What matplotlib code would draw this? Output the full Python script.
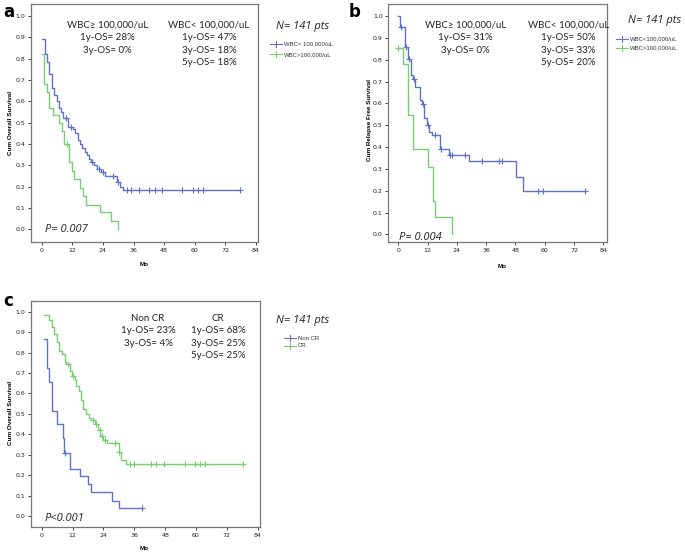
import numpy as np
import matplotlib
matplotlib.use("Agg")
import matplotlib.pyplot as plt

# panel a: overall survival by WBC
a_lo_t = [0, 1.3, 2.2, 3, 3.9, 4.8, 5.9, 6.8, 7.7, 8.5, 10.4, 12.1, 13.2, 14.1, 15, 15.9,
          16.8, 17.9, 18.7, 19.5, 20.6, 21.5, 23.1, 25, 29.6, 30.7, 32]
a_lo_s = [0.89, 0.82, 0.785, 0.73, 0.66, 0.63, 0.60, 0.57, 0.55, 0.52, 0.48, 0.47, 0.45, 0.42,
          0.40, 0.38, 0.36, 0.35, 0.33, 0.315, 0.30, 0.28, 0.27, 0.25, 0.22, 0.20, 0.185]
a_lo_c = [9.5, 11.4, 19.9, 22.3, 24.2, 28, 30, 33.3, 35, 38.3, 42.2, 44.4, 47.3, 55.2, 59.2,
          61.4, 63.3, 77.7]
a_hi_t = [0.2, 1, 2.2, 3, 4.6, 6.9, 7.8, 8.8, 10.8, 11.8, 12.7, 15, 16.1, 17.2, 22.9, 27, 30]
a_hi_s = [0.82, 0.68, 0.645, 0.57, 0.535, 0.50, 0.46, 0.40, 0.315, 0.275, 0.235, 0.195, 0.155,
          0.115, 0.08, 0.04, 0.0]
a_hi_c = [10.1]

# panel b: relapse free survival by WBC
b_lo_t = [0, 0.7, 2.7, 4.1, 5.2, 6.0, 6.8, 8.9, 9.8, 10.7, 11.6, 12.6, 13.7, 17.1, 20.8, 28.8,
          48.2, 51.2]
b_lo_s = [1.0, 0.95, 0.86, 0.805, 0.73, 0.71, 0.675, 0.615, 0.595, 0.535, 0.50, 0.47, 0.455,
          0.39, 0.365, 0.335, 0.265, 0.20]
b_lo_c = [1.0, 3.3, 4.5, 6.3, 10.1, 12.0, 15.0, 17.5, 21.3, 22.0, 27.3, 34.3, 41.4, 42.4,
          57.4, 59.1, 76.6]
b_hi_t = [0, 2, 4.1, 6.1, 12.3, 14.3, 15, 22.1]
b_hi_s = [0.855, 0.78, 0.545, 0.39, 0.31, 0.155, 0.08, 0.0]
b_hi_c = [0.0]

# panel c: overall survival by response
c_ncr_t = [1.0, 2.2, 3.0, 3.9, 6.1, 8.2, 8.7, 11.0, 14.9, 17.8, 19.1, 27.3, 30.2]
c_ncr_s = [0.865, 0.725, 0.655, 0.515, 0.45, 0.38, 0.31, 0.23, 0.195, 0.155, 0.115, 0.075, 0.038]
c_ncr_c = [9.1, 38.9]
c_cr_t = [1.0, 3.0, 3.9, 4.6, 5.8, 6.9, 7.8, 9.1, 9.6, 10.8, 11.6, 13.0, 13.4, 14.3, 15.3, 16.2,
          17.3, 18.2, 19.1, 20.8, 21.8, 22.7, 24.0, 25.3, 29.9, 30.8, 32.8]
c_cr_s = [0.985, 0.96, 0.925, 0.89, 0.85, 0.81, 0.795, 0.755, 0.742, 0.71, 0.685, 0.665, 0.635,
          0.61, 0.57, 0.525, 0.50, 0.48, 0.47, 0.45, 0.42, 0.39, 0.37, 0.355, 0.315, 0.275, 0.255]
c_cr_c = [10.1, 12.3, 19.9, 21.0, 22.5, 23.4, 24.7, 28.3, 30.2, 34.4, 35.7, 42.4, 44.5, 47.4,
          55.6, 59.7, 61.7, 63.6, 78.3]

BLUE = "#6072c4"
GREEN = "#78cc72"
W, H = 685, 555

fig = plt.figure(figsize=(W / 100, H / 100), dpi=100)


def px(x, y):
    return x / W, 1 - y / H


def add_axes(l, t, r, b):
    return fig.add_axes([l / W, 1 - b / H, (r - l) / W, (b - t) / H])


def km(ax, t, s, cens, color):
    end = max([t[-1]] + cens)
    tt = list(t) + [end]
    ss = list(s) + [s[-1]]
    ax.step(tt, ss, where="post", color=color, lw=1.0)
    t_arr = np.array(t)
    cy = [s[max(np.searchsorted(t_arr, c, side="right") - 1, 0)] for c in cens]
    ax.plot(cens, cy, "+", color=color, ms=4.5, mew=0.8)


def style(ax, xlim, ylim):
    ax.set_xlim(*xlim)
    ax.set_ylim(*ylim)
    ax.set_xticks(range(0, 85, 12))
    ax.set_yticks(np.round(np.arange(0, 1.01, 0.1), 1))
    ax.set_yticklabels([f"{v:.1f}" for v in np.arange(0, 1.01, 0.1)])
    ax.tick_params(labelsize=4.5, length=2.5, width=0.6, pad=1.5, colors="#222222")
    for sp in ax.spines.values():
        sp.set_color("#777777")
        sp.set_linewidth(0.9)


def legend(x0, ys, labels, colors):
    for y, lab, c in zip(ys, labels, colors):
        fig.lines.append(plt.Line2D([x0 / W, (x0 + 12) / W], [1 - y / H] * 2,
                                    color=c, lw=0.8, transform=fig.transFigure))
        fig.lines.append(plt.Line2D([(x0 + 6) / W] * 2, [1 - (y - 3) / H, 1 - (y + 3) / H],
                                    color=c, lw=0.8, transform=fig.transFigure))
        fig.text(*px(x0 + 14, y), lab, fontsize=4.3, va="center", ha="left",
                 family="Liberation Sans", color="#333333")


txt = dict(fontsize=7, family="Lato", ha="center", va="center", color="#222222")
ital = dict(fontsize=8, family="Open Sans", style="italic", va="center", color="#222222")
lab = dict(fontsize=4.6, family="Liberation Sans", weight="bold", ha="center", va="center")

# ---- panel a
axa = add_axes(30.7, 4, 258, 242)
km(axa, a_lo_t, a_lo_s, a_lo_c, BLUE)
km(axa, a_hi_t, a_hi_s, a_hi_c, GREEN)
style(axa, (-4.3, 84.8), (-0.06, 1.056))
fig.text(*px(3, 12), "a", fontsize=12, weight="bold", va="center")
fig.text(*px(10.5, 123), "Cum Overall Survival", rotation=90, **lab)
fig.text(*px(144, 264), "Mo", **lab)
for i, s in enumerate(["WBC≥ 100,000/uL", "1y-OS= 28%", "3y-OS= 0%"]):
    fig.text(*px(107.5, 25 + 12.8 * i), s, **txt)
for i, s in enumerate(["WBC< 100,000/uL", "1y-OS= 47%", "3y-OS= 18%", "5y-OS= 18%"]):
    fig.text(*px(209, 25 + 12.6 * i), s, **txt)
fig.text(*px(302.5, 26.5), "N= 141 pts", ha="center", **ital)
fig.text(*px(45, 230), "P= 0.007", ha="left", **ital)
legend(270, [43.7, 54.3], ["WBC< 100,000/uL", "WBC>100,000/uL"], [BLUE, GREEN])

# ---- panel b
axb = add_axes(388.3, 4, 606.7, 242.3)
km(axb, b_lo_t, b_lo_s, b_lo_c, BLUE)
km(axb, b_hi_t, b_hi_s, b_hi_c, GREEN)
style(axb, (-4.1, 85.4), (-0.036, 1.055))
fig.text(*px(349, 12), "b", fontsize=12, weight="bold", va="center")
fig.text(*px(369, 120), "Cum Relapse Free Survival", rotation=90, **lab)
fig.text(*px(501.7, 266), "Mo", **lab)
for i, s in enumerate(["WBC≥ 100,000/uL", "1y-OS= 31%", "3y-OS= 0%"]):
    fig.text(*px(465.8, 25 + 12.8 * i), s, **txt)
for i, s in enumerate(["WBC< 100,000/uL", "1y-OS= 50%", "3y-OS= 33%", "5y-OS= 20%"]):
    fig.text(*px(568.3, 25 + 12.6 * i), s, **txt)
fig.text(*px(655, 20), "N= 141 pts", ha="center", **ital)
fig.text(*px(399.3, 237.7), "P= 0.004", ha="left", **ital)
legend(615.5, [39, 47.7], ["WBC<100,000/uL", "WBC>100,000/uL"], [BLUE, GREEN])

# ---- panel c
axc = add_axes(30.7, 300.7, 260, 527)
km(axc, c_ncr_t, c_ncr_s, c_ncr_c, BLUE)
km(axc, c_cr_t, c_cr_s, c_cr_c, GREEN)
style(axc, (-4.3, 84.9), (-0.054, 1.054))
fig.text(*px(3, 301), "c", fontsize=12, weight="bold", va="center")
fig.text(*px(10.5, 413), "Cum Overall Survival", rotation=90, **lab)
fig.text(*px(144, 549), "Mo", **lab)
for i, s in enumerate(["Non CR", "1y-OS= 23%", "3y-OS= 4%"]):
    fig.text(*px(148, 318.3 + 12.5 * i), s, **txt)
for i, s in enumerate(["CR", "1y-OS= 68%", "3y-OS= 25%", "5y-OS= 25%"]):
    fig.text(*px(218.3, 318.3 + 12.5 * i), s, **txt)
fig.text(*px(302.5, 320), "N= 141 pts", ha="center", **ital)
fig.text(*px(45, 518.3), "P<0.001", ha="left", **ital)
legend(284, [338.3, 345.7], ["Non CR", "CR"], [BLUE, GREEN])

fig.savefig("out.png", dpi=100)
